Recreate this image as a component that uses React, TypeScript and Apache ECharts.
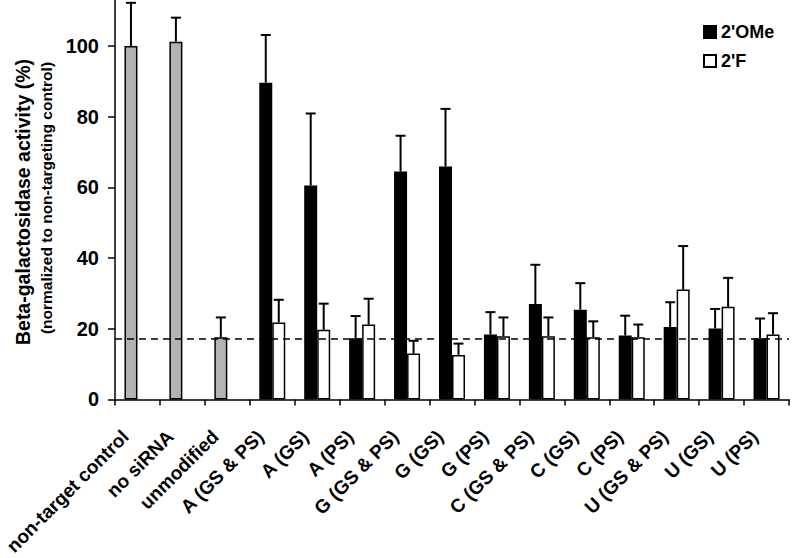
import React, { useEffect, useRef } from "react";
import * as echarts from "echarts";

const categories = [
  "non-target control", "no siRNA", "unmodified",
  "A (GS & PS)", "A (GS)", "A (PS)",
  "G (GS & PS)", "G (GS)", "G (PS)",
  "C (GS & PS)", "C (GS)", "C (PS)",
  "U (GS & PS)", "U (GS)", "U (PS)",
];
const controlValues = [100, 101.2, 17.6];
const controlErrTop = [112.2, 108, 23.2];
const omeValues = [89.6, 60.5, 17.3, 64.5, 65.9, 18.4, 27.0, 25.4, 18.1, 20.5, 20.1, 17.3];
const omeErrTop = [103.1, 80.9, 23.6, 74.6, 82.2, 24.7, 38.1, 32.9, 23.7, 27.5, 25.6, 22.9];
const fValues = [21.8, 19.7, 21.2, 13.0, 12.6, 17.9, 17.9, 17.6, 17.6, 31.1, 26.2, 18.4];
const fErrTop = [28.2, 27.1, 28.5, 16.6, 15.8, 23.2, 23.2, 22.1, 21.2, 43.4, 34.4, 24.4];
const referenceLine = 17.1;
const yTicks = [0, 20, 40, 60, 80, 100];

const FONT = "'Liberation Sans', Arial, sans-serif";

export default function App() {
  const ref = useRef<HTMLDivElement>(null);
  useEffect(() => {
    if (!ref.current) return;
    const chart = echarts.init(ref.current, undefined, { renderer: "svg" });
    const nCtrl = controlValues.length;
    const blackData: any[] = [];
    const whiteData: any[] = [];
    const errData: any[] = [];
    categories.forEach((_, i) => {
      if (i < nCtrl) {
        blackData.push({ value: controlValues[i], itemStyle: { color: "#b3b3b3" } });
        whiteData.push(null);
        errData.push([i, controlValues[i], controlErrTop[i], -1]);
      } else {
        const j = i - nCtrl;
        blackData.push(omeValues[j]);
        whiteData.push(fValues[j]);
        errData.push([i, omeValues[j], omeErrTop[j], -1]);
        errData.push([i, fValues[j], fErrTop[j], 1]);
      }
    });
    const barW = 13;
    chart.setOption({
      animation: false,
      grid: { left: 115, right: 3, top: 0, bottom: 158, containLabel: false },
      legend: {
        orient: "vertical",
        left: 698,
        top: 18,
        itemWidth: 12,
        itemHeight: 12,
        itemGap: 11,
        icon: "rect",
        data: ["2'OMe", "2'F"],
        textStyle: { fontFamily: FONT, fontWeight: "bold", fontSize: 18, color: "#000" },
      },
      xAxis: {
        type: "category",
        data: categories,
        boundaryGap: true,
        axisLine: { lineStyle: { color: "#000", width: 1.5 } },
        axisTick: { show: true, length: 6, lineStyle: { color: "#000", width: 1.5 } },
        axisLabel: {
          interval: 0,
          rotate: 45,
          margin: 22,
          padding: [0, 17, 0, 0],
          fontFamily: FONT,
          fontWeight: "bold",
          fontSize: 19,
          color: "#000",
        },
      },
      yAxis: {
        type: "value",
        min: 0,
        max: 113,
        interval: 20,
        splitLine: { show: false },
        axisLine: { show: true, lineStyle: { color: "#000", width: 1.5 } },
        axisTick: { show: true, length: 7, lineStyle: { color: "#000", width: 1.5 } },
        axisLabel: {
          showMaxLabel: false,
          margin: 16,
          fontFamily: FONT,
          fontWeight: "bold",
          fontSize: 20,
          color: "#000",
          formatter: (v: number) => (yTicks.includes(v) ? String(v) : ""),
        },
      },
      graphic: [
        {
          type: "text",
          x: 23,
          y: 202,
          rotation: Math.PI / 2,
          style: {
            text: "Beta-galactosidase activity (%)",
            fontFamily: FONT,
            fontWeight: "bold",
            fontSize: 19.5,
            fill: "#000",
            align: "center",
            verticalAlign: "middle",
          },
        },
        {
          type: "text",
          x: 46,
          y: 198,
          rotation: Math.PI / 2,
          style: {
            text: "(normalized to non-targeting control)",
            fontFamily: FONT,
            fontWeight: "bold",
            fontSize: 15.5,
            fill: "#000",
            align: "center",
            verticalAlign: "middle",
          },
        },
      ],
      series: [
        {
          name: "2'OMe",
          type: "bar",
          data: blackData,
          barWidth: barW,
          barGap: "0%",
          itemStyle: { color: "#000", borderColor: "#000", borderWidth: 1.5 },
          markLine: {
            silent: true,
            symbol: "none",
            label: { show: false },
            lineStyle: { color: "#000", type: [7, 5], width: 1.5 },
            data: [{ yAxis: referenceLine }],
          },
        },
        {
          name: "2'F",
          type: "bar",
          data: whiteData,
          barWidth: barW,
          barGap: "0%",
          itemStyle: { color: "#fff", borderColor: "#000", borderWidth: 1.5 },
        },
        {
          type: "custom",
          data: errData,
          z: 5,
          renderItem: (params: any, api: any) => {
            const cat = api.value(0);
            const val = api.value(1);
            const top = api.value(2);
            const side = api.value(3);
            const base = api.coord([cat, val]);
            const hi = api.coord([cat, top]);
            const x = base[0] + side * (barW / 2);
            const style = { stroke: "#000", lineWidth: 2 };
            return {
              type: "group",
              children: [
                { type: "line", shape: { x1: x, y1: base[1], x2: x, y2: hi[1] }, style },
                { type: "line", shape: { x1: x - 5, y1: hi[1], x2: x + 5, y2: hi[1] }, style },
              ],
            };
          },
        },
      ],
    });
    return () => chart.dispose();
  }, []);
  return (
    <div
      ref={ref}
      style={{ position: "absolute", left: 0, top: 0, width: 792, height: 558 }}
    />
  );
}
